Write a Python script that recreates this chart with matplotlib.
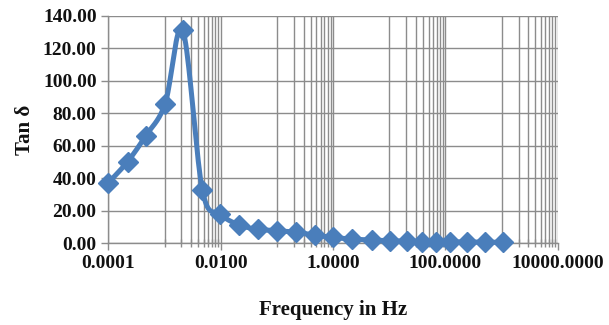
import numpy as np
import matplotlib
matplotlib.use("Agg")
import matplotlib.pyplot as plt
from matplotlib.ticker import FixedLocator, FuncFormatter, MultipleLocator, NullFormatter

# Data
freq = [0.0001, 0.00022, 0.00046, 0.00102, 0.0021, 0.0047, 0.0098, 0.0213,
        0.0467, 0.1, 0.22, 0.48, 1.0, 2.2, 4.9, 10.3, 20.4, 37.8, 67.7,
        120.0, 238.0, 500.0, 1070.0]
tan_delta = [37.3, 50.3, 66.1, 85.8, 131.3, 32.8, 18.0, 11.3, 8.6, 7.8,
             6.8, 5.0, 3.6, 2.6, 2.0, 1.6, 1.3, 1.1, 1.0, 0.9, 0.8, 0.7, 0.6]
x_major = [1e-4, 1e-2, 1e0, 1e2, 1e4]
x_minor = [k * 10.0 ** e for e in (-3, -1, 1, 3) for k in range(1, 10)]

blue = "#4A7EBB"
grid_c = "#8C8C8C"
font = "Liberation Serif"

fig = plt.figure(figsize=(6.09, 3.25), dpi=100)
ax = fig.add_axes([0.178, 0.2514, 0.738, 0.6996])
ax.set_xscale("log")
ax.set_xlim(1e-4, 1e4)
ax.set_ylim(0, 140)


def smooth(xs, ys, n=20):
    # Excel-like smoothed line: Catmull-Rom style Bezier in display space
    pts = ax.transData.transform(np.column_stack([xs, ys]))
    out = [pts[0]]
    for i in range(len(pts) - 1):
        p0 = pts[max(i - 1, 0)]
        p1 = pts[i]
        p2 = pts[i + 1]
        p3 = pts[min(i + 2, len(pts) - 1)]
        c1 = p1 + (p2 - p0) / 6.0
        c2 = p2 - (p3 - p1) / 6.0
        t = np.linspace(0, 1, n)[1:, None]
        seg = ((1 - t) ** 3) * p1 + 3 * ((1 - t) ** 2) * t * c1 + 3 * (1 - t) * t ** 2 * c2 + t ** 3 * p2
        out.extend(seg)
    out = ax.transData.inverted().transform(np.array(out))
    return out[:, 0], out[:, 1]


sx, sy = smooth(freq, tan_delta)
ax.plot(sx, sy, color=blue, lw=3.6, solid_capstyle="round", solid_joinstyle="round",
        zorder=3, clip_on=False)
ax.plot(freq, tan_delta, ls="none", marker="D", ms=10, color=blue,
        markeredgecolor=blue, zorder=4, clip_on=False)

ax.xaxis.set_major_locator(FixedLocator(x_major))
ax.xaxis.set_minor_locator(FixedLocator(x_minor))
ax.xaxis.set_major_formatter(FuncFormatter(lambda v, p: f"{v:.4f}"))
ax.xaxis.set_minor_formatter(NullFormatter())
ax.yaxis.set_major_locator(MultipleLocator(20))
ax.yaxis.set_major_formatter(FuncFormatter(lambda v, p: f"{v:.2f}"))

ax.grid(True, which="major", color=grid_c, lw=1.0)
ax.grid(True, which="minor", axis="x", color=grid_c, lw=1.0)
ax.set_axisbelow(True)

for s in ["top", "right"]:
    ax.spines[s].set_visible(False)
for s in ["left", "bottom"]:
    ax.spines[s].set_color(grid_c)
    ax.spines[s].set_linewidth(1.0)

ax.tick_params(axis="both", which="major", colors=grid_c, length=5, width=1,
               labelcolor="#111111", labelsize=14)
ax.tick_params(axis="x", which="minor", direction="inout", length=6, width=1, colors=grid_c)
for lab in ax.get_xticklabels() + ax.get_yticklabels():
    lab.set_fontfamily(font)
    lab.set_fontweight("bold")

ax.set_xlabel("Frequency in Hz", fontfamily=font, fontweight="bold", fontsize=15,
              color="#111111", labelpad=20)
ax.set_ylabel("Tan δ", fontfamily=font, fontweight="bold", fontsize=15,
              color="#111111", labelpad=6)

fig.savefig("out.png", dpi=100)
